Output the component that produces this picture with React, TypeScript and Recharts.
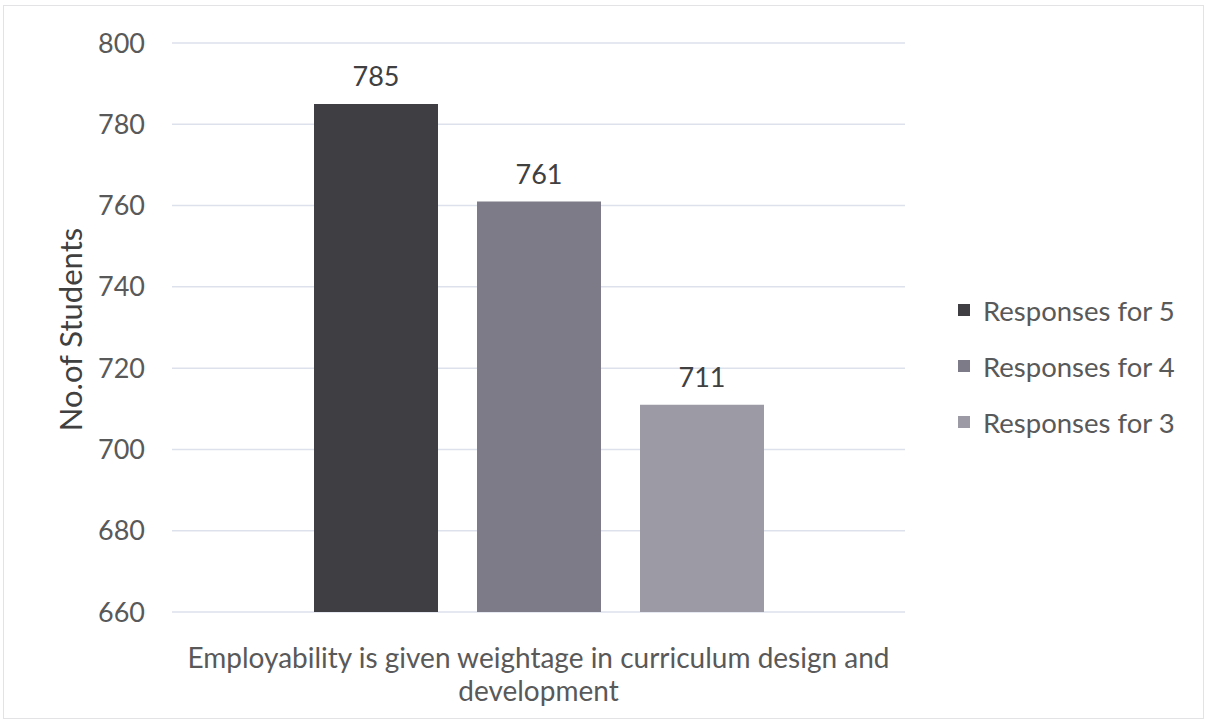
import { BarChart, Bar, XAxis, YAxis, CartesianGrid, Legend, LabelList, Label } from 'recharts';

const categories = ['Employability is given weightage in curriculum design and development'];
const responses5 = [785];
const responses4 = [761];
const responses3 = [711];
const seriesNames = ['Responses for 5', 'Responses for 4', 'Responses for 3'];
const seriesColors = ['#3e3e43', '#7d7b87', '#9c9ba5'];
const yTicks = [660, 680, 700, 720, 740, 760, 780, 800];

const data = categories.map((name, i) => ({
  name,
  r5: responses5[i],
  r4: responses4[i],
  r3: responses3[i],
}));

const FONT = 'Lato, "Open Sans", sans-serif';

function CategoryTick({ x, y, payload }: any) {
  // wrap the long category name onto two lines like the original
  const words = String(payload.value).split(' ');
  const first = words.slice(0, -1).join(' ');
  const second = words[words.length - 1];
  return (
    <text x={x} y={y} textAnchor="middle" fill="#595959" fontSize={28} fontFamily={FONT}>
      <tspan x={x} dy={54}>{first}</tspan>
      <tspan x={x} dy={33}>{second}</tspan>
    </text>
  );
}

function LegendList() {
  return (
    <div style={{ fontFamily: FONT, fontSize: 27.5, color: '#595959' }}>
      {seriesNames.map((n, i) => (
        <div key={n} style={{ display: 'flex', alignItems: 'center', height: 56 }}>
          <span style={{ width: 12, height: 12, background: seriesColors[i], marginRight: 13, display: 'inline-block' }} />
          {n}
        </div>
      ))}
    </div>
  );
}

export default function App() {
  return (
    <div style={{ position: 'absolute', left: 0, top: 0, width: 1208, height: 726, background: '#fff' }}>
      <div style={{ position: 'absolute', left: 3, top: 5, width: 1199, height: 712, border: '1px solid #e3e3e6' }} />
      <BarChart
        width={1208}
        height={726}
        data={data}
        margin={{ top: 43, right: 303, bottom: 0, left: 20 }}
        barCategoryGap={142}
        barGap={39}
      >
        <CartesianGrid vertical={false} stroke="#dde1ec" strokeWidth={1.5} />
        <XAxis
          dataKey="name"
          height={114}
          axisLine={false}
          tickLine={false}
          tickSize={0}
          tick={<CategoryTick />}
          interval={0}
        />
        <YAxis
          width={152}
          domain={[660, 800]}
          ticks={yTicks}
          axisLine={false}
          tickLine={false}
          tickSize={0}
          tickMargin={27}
          tick={{ fill: '#595959', fontSize: 27, fontFamily: FONT }}
        >
          <Label
            content={({ viewBox }: any) => {
              const cx = viewBox.x + 50;
              const cy = viewBox.y + viewBox.height / 2 + 2;
              return (
                <text
                  x={cx}
                  y={cy}
                  transform={`rotate(-90, ${cx}, ${cy})`}
                  textAnchor="middle"
                  dominantBaseline="central"
                  fill="#404040"
                  fontSize={31}
                  fontFamily={FONT}
                >
                  No.of Students
                </text>
              );
            }}
          />
        </YAxis>
        <Legend
          layout="vertical"
          align="center"
          verticalAlign="middle"
          wrapperStyle={{ left: 958, top: 282, width: 245 }}
          content={<LegendList />}
        />
        <Bar dataKey="r5" name={seriesNames[0]} fill={seriesColors[0]} isAnimationActive={false}>
          <LabelList dataKey="r5" position="top" offset={18} fill="#404040" fontSize={27} fontFamily={FONT} />
        </Bar>
        <Bar dataKey="r4" name={seriesNames[1]} fill={seriesColors[1]} isAnimationActive={false}>
          <LabelList dataKey="r4" position="top" offset={18} fill="#404040" fontSize={27} fontFamily={FONT} />
        </Bar>
        <Bar dataKey="r3" name={seriesNames[2]} fill={seriesColors[2]} isAnimationActive={false}>
          <LabelList dataKey="r3" position="top" offset={18} fill="#404040" fontSize={27} fontFamily={FONT} />
        </Bar>
      </BarChart>
    </div>
  );
}
